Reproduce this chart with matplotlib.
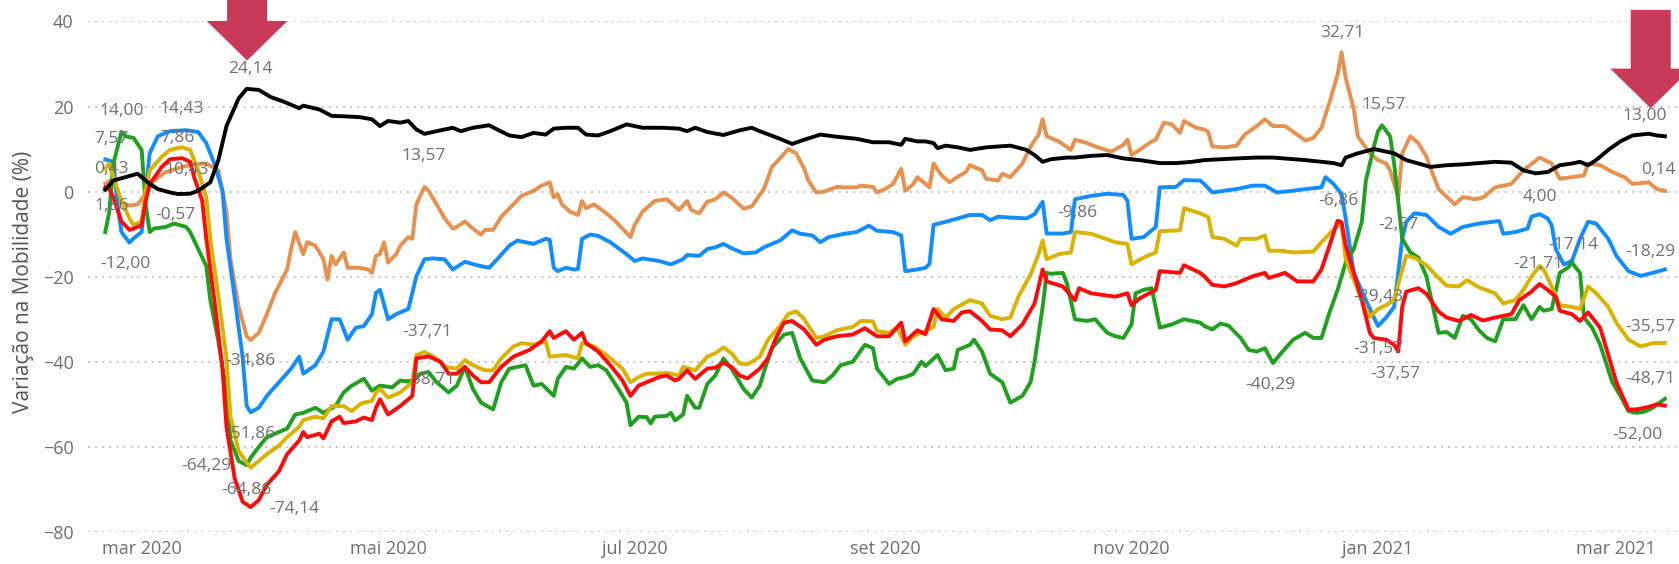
import pandas as pd
import matplotlib
matplotlib.use("Agg")
import matplotlib.pyplot as plt
import matplotlib.dates as mdates
from matplotlib.patches import Polygon

plt.rcParams["font.family"] = ["Open Sans", "DejaVu Sans"]

# (day, value) pairs, day 0 = 2020-03-01, values are 7-day averages (%)
INICIO = pd.Timestamp("2020-03-01")

black = [(-9, 0.43), (-7, 2.6), (-4, 3.4), (-1, 4.2), (0, 3.4), (2, 1.8), (4, 0.6), (7, -0.2), (9, -0.57),
         (12, -0.5), (14, 0.2), (17, 2.2), (19, 7.4), (21, 15.4), (24, 21.9), (26, 24.14), (29, 23.9),
         (32, 22.2), (35, 21.2), (39, 19.6), (40, 20.2), (44, 19.3), (47, 17.8), (50, 17.7), (54, 17.5),
         (57, 17.0), (59, 15.4), (61, 16.6), (64, 16.2), (66, 16.6), (68, 14.6), (70, 13.57), (73, 14.2),
         (77, 15.0), (79, 14.2), (82, 15.0), (86, 15.6), (88, 14.6), (91, 13.2), (94, 12.8), (97, 13.8),
         (100, 13.4), (102, 14.8), (105, 15.0), (108, 15.0), (110, 13.4), (113, 13.2), (116, 14.2),
         (120, 15.8), (124, 15.0), (129, 15.0), (133, 14.8), (135, 14.2), (137, 15.0), (140, 14.0),
         (144, 13.3), (148, 14.4), (151, 15.0), (153, 14.2), (158, 12.4), (161, 11.2), (164, 12.2),
         (168, 13.4), (172, 12.9), (177, 12.4), (181, 11.6), (185, 11.6), (188, 11.0), (189, 12.4),
         (192, 11.8), (194, 11.8), (196, 11.4), (197, 10.2), (199, 10.8), (202, 10.4), (205, 9.8),
         (209, 10.4), (212, 10.6), (215, 10.8), (219, 9.8), (221, 8.6), (223, 7.0), (225, 7.6), (229, 8.0),
         (231, 8.0), (235, 8.4), (239, 8.6), (243, 7.8), (247, 7.4), (252, 6.7), (256, 6.7), (260, 7.0),
         (263, 7.4), (267, 7.6), (271, 7.8), (276, 8.0), (280, 8.0), (284, 7.7), (288, 7.4), (292, 7.0),
         (295, 6.7), (297, 6.2), (298, 8.0), (301, 9.0), (305, 10.0), (308, 9.4), (310, 9.0), (313, 7.4),
         (316, 6.6), (319, 5.8), (323, 6.2), (327, 6.4), (331, 6.7), (335, 7.0), (339, 6.8), (342, 5.0),
         (345, 4.3), (348, 4.6), (351, 6.2), (354, 6.6), (356, 7.0), (358, 6.2), (360, 7.4), (363, 9.8),
         (366, 11.8), (369, 13.2), (373, 13.6), (375, 13.2), (377, 13.0)]

orange = [(-9, 1.86), (-7, 3.0), (-5, -2.5), (-3, -3.3), (-1, -3.0), (1, -0.5), (3, 2.6), (6, 4.6),
          (10, 5.8), (13, 6.4), (16, 6.6), (19, 5.0), (21, -4.7), (22, -15.9), (24, -27.1), (26, -34.0),
          (27, -34.86), (29, -33.2), (31, -28.8), (33, -23.9), (36, -18.3), (37, -13.5), (38, -9.5),
          (40, -14.7), (41, -11.9), (43, -12.7), (45, -15.9), (46, -20.7), (47, -15.1), (48, -17.1),
          (50, -14.3), (51, -17.9), (54, -17.9), (56, -18.3), (57, -19.1), (58, -15.1), (59, -14.7),
          (60, -11.9), (61, -16.7), (63, -14.7), (64, -12.7), (66, -10.7), (67, -11.1), (68, -3.0),
          (70, 1.1), (71, 0.2), (73, -3.0), (75, -6.3), (77, -8.7), (78, -8.3), (80, -7.0), (82, -8.7),
          (84, -10.1), (85, -9.0), (87, -9.0), (89, -5.9), (92, -3.0), (94, -1.0), (97, 0.2), (99, 1.4),
          (101, 2.2), (102, -1.4), (103, -0.6), (104, -3.0), (106, -4.7), (108, -5.5), (109, -2.2),
          (110, -3.9), (112, -3.0), (115, -5.1), (117, -6.7), (119, -8.7), (121, -10.7), (122, -7.9),
          (124, -4.7), (127, -2.2), (130, -1.8), (132, -3.5), (133, -4.3), (135, -2.2), (136, -4.3),
          (138, -5.1), (140, -2.4), (142, -1.8), (144, -0.2), (146, -1.4), (149, -4.0), (151, -3.5),
          (154, 0.6), (156, 5.8), (158, 7.8), (160, 10.0), (162, 9.0), (164, 5.4), (165, 2.6), (167, -0.2),
          (169, 0.0), (172, 1.1), (174, 1.0), (177, 1.0), (178, 1.4), (181, 1.1), (182, -0.2), (184, 0.6),
          (186, 1.8), (188, 5.4), (189, 0.2), (191, 1.8), (192, 3.4), (193, 2.6), (195, 1.0), (196, 6.6),
          (198, 3.8), (200, 2.2), (202, 3.5), (204, 4.6), (205, 6.2), (208, 5.0), (209, 3.0), (212, 2.6),
          (213, 4.2), (215, 3.4), (218, 6.6), (220, 10.6), (222, 13.4), (223, 17.0), (224, 13.0),
          (227, 11.8), (230, 9.8), (231, 12.2), (234, 11.4), (236, 10.6), (240, 9.4), (243, 11.0),
          (244, 12.2), (245, 8.6), (247, 9.8), (250, 11.8), (251, 12.2), (253, 16.2), (255, 15.8),
          (257, 13.8), (258, 16.6), (261, 15.0), (263, 14.6), (264, 14.0), (265, 10.6), (268, 10.4),
          (271, 10.8), (273, 13.4), (276, 15.4), (278, 17.0), (280, 15.4), (283, 15.4), (286, 13.4),
          (288, 12.0), (290, 12.6), (292, 15.0), (294, 21.0), (296, 27.5), (297, 32.71), (298, 26.7),
          (300, 19.4), (301, 13.0), (304, 9.0), (306, 7.4), (308, 6.6), (309, 5.0), (310, 1.8), (311, -1.4),
          (312, 9.0), (314, 13.0), (316, 11.4), (318, 8.2), (319, 5.5), (321, 0.6), (323, -1.2), (325, -3.0),
          (327, -1.3), (330, -1.8), (332, -1.4), (335, 1.0), (339, 1.8), (342, 5.0), (346, 8.0), (349, 6.6),
          (351, 3.0), (354, 3.4), (357, 3.8), (358, 6.6), (361, 6.2), (364, 4.6), (367, 3.4), (369, 1.8),
          (373, 2.2), (375, 0.6), (377, 0.14)]

blue = [(-9, 7.57), (-7, 7.0), (-6, -3.0), (-5, -9.5), (-3, -12.0), (-2, -11.0), (0, -9.5), (1, 0.0),
        (2, 9.0), (4, 13.0), (7, 14.2), (11, 14.43), (14, 14.0), (16, 11.4), (18, 6.6), (20, 0.2),
        (21, -11.0), (23, -24.7), (25, -39.0), (26, -50.4), (27, -51.86), (29, -50.8), (31, -48.0),
        (34, -44.8), (37, -41.6), (39, -38.8), (40, -42.8), (43, -40.8), (45, -37.6), (47, -30.0),
        (49, -30.0), (51, -34.8), (53, -32.0), (55, -31.6), (57, -28.8), (58, -23.8), (59, -23.1),
        (61, -30.0), (63, -28.8), (66, -27.6), (68, -19.9), (70, -15.9), (72, -15.7), (75, -15.9),
        (77, -18.3), (80, -16.5), (83, -17.3), (86, -17.9), (88, -15.9), (91, -12.7), (93, -11.5),
        (97, -12.3), (100, -11.1), (101, -11.3), (102, -17.9), (103, -18.7), (105, -17.9), (107, -18.3),
        (108, -18.2), (109, -11.1), (111, -10.1), (113, -10.4), (116, -11.9), (120, -14.7), (122, -16.3),
        (124, -15.7), (128, -16.3), (131, -17.1), (134, -15.9), (135, -14.9), (138, -15.1), (140, -13.5),
        (142, -13.1), (144, -12.3), (146, -13.3), (149, -14.5), (152, -14.3), (154, -13.1), (158, -11.5),
        (159, -10.7), (161, -9.1), (163, -9.9), (166, -10.3), (168, -11.9), (170, -10.7), (174, -9.9),
        (177, -9.5), (180, -8.0), (182, -9.2), (186, -9.5), (188, -10.3), (189, -18.7), (192, -18.3),
        (194, -17.9), (195, -17.0), (196, -7.8), (199, -7.1), (202, -6.3), (205, -5.5), (208, -5.5),
        (210, -6.7), (212, -5.9), (215, -6.1), (219, -6.3), (221, -5.3), (223, -2.4), (224, -9.86),
        (228, -9.86), (230, -9.5), (231, -1.8), (235, -1.0), (239, -0.5), (243, -0.8), (244, -2.2),
        (245, -11.1), (248, -10.7), (251, -8.3), (252, 1.0), (256, 1.1), (258, 2.7), (262, 2.6), (263, 1.8),
        (265, -0.2), (268, 0.2), (271, 0.6), (275, 1.4), (278, 1.4), (281, -0.2), (285, 0.2), (288, 0.6),
        (292, 1.0), (293, 3.4), (295, 1.8), (297, -0.6), (298, -6.3), (299, -12.7), (300, -19.1),
        (303, -25.5), (305, -29.6), (306, -31.57), (308, -29.6), (310, -27.1), (311, -19.1), (312, -11.1),
        (313, -7.1), (315, -5.1), (318, -5.5), (321, -8.3), (324, -9.9), (327, -8.3), (331, -7.5),
        (336, -6.9), (337, -9.9), (340, -9.5), (343, -8.7), (344, -5.9), (346, -5.3), (348, -6.3),
        (349, -7.9), (350, -13.5), (352, -17.14), (354, -16.3), (356, -11.1), (358, -7.1), (360, -7.5),
        (363, -11.1), (365, -15.1), (368, -18.7), (371, -19.8), (374, -19.1), (377, -18.29)]

yellow = [(-9, 5.4), (-8, 6.6), (-7, 3.4), (-5, -2.2), (-3, -6.3), (-2, -7.9), (0, -7.0), (1, 0.2), (2, 5.0),
          (5, 8.2), (7, 9.8), (10, 10.43), (12, 9.8), (14, 5.0), (16, -1.4), (17, -11.0), (19, -24.7),
          (21, -39.2), (22, -52.9), (24, -60.9), (26, -63.7), (27, -64.86), (29, -63.3), (31, -61.7),
          (34, -59.7), (36, -57.7), (39, -55.3), (40, -53.7), (43, -52.9), (45, -53.3), (47, -50.4),
          (50, -50.4), (52, -51.6), (54, -50.0), (55, -49.6), (57, -49.2), (58, -47.2), (59, -46.4),
          (61, -48.4), (64, -47.2), (67, -44.8), (68, -38.4), (70, -37.71), (73, -39.2), (75, -41.2),
          (78, -41.6), (80, -39.6), (82, -40.8), (85, -42.0), (87, -42.0), (89, -39.2), (92, -36.4),
          (94, -35.6), (97, -36.0), (100, -35.2), (101, -38.8), (105, -38.4), (108, -39.2), (109, -35.6),
          (112, -36.4), (115, -38.4), (119, -41.6), (121, -44.8), (123, -43.6), (125, -42.8), (127, -42.8),
          (130, -42.6), (133, -43.2), (134, -41.2), (137, -42.0), (140, -38.8), (142, -38.0), (144, -36.6),
          (146, -38.0), (148, -40.4), (150, -40.6), (153, -38.8), (155, -34.8), (158, -31.6), (160, -28.8),
          (162, -28.1), (164, -30.0), (167, -34.4), (169, -34.0), (172, -32.6), (176, -31.8), (178, -30.4),
          (181, -30.5), (182, -32.8), (185, -33.2), (187, -32.0), (189, -36.0), (191, -34.0), (194, -32.8),
          (196, -31.8), (197, -27.6), (199, -29.6), (201, -27.6), (205, -25.5), (208, -26.3), (210, -29.2),
          (213, -30.0), (215, -29.6), (217, -24.7), (220, -19.5), (222, -14.7), (223, -11.5), (224, -15.9),
          (227, -14.7), (230, -14.3), (231, -9.5), (235, -9.9), (238, -10.9), (241, -11.9), (244, -12.3),
          (245, -17.1), (248, -15.5), (251, -14.3), (252, -9.3), (257, -9.1), (258, -3.9), (262, -5.1),
          (264, -6.0), (265, -10.7), (268, -11.1), (271, -12.7), (272, -11.1), (276, -11.1), (278, -10.3),
          (279, -13.9), (282, -13.9), (285, -14.3), (290, -14.1), (292, -11.9), (294, -9.9), (296, -7.9),
          (297, -7.9), (298, -15.9), (300, -20.7), (302, -25.5), (304, -29.43), (306, -27.6), (308, -26.7),
          (310, -25.5), (312, -18.3), (313, -15.1), (315, -15.5), (318, -17.3), (321, -20.3), (323, -22.1),
          (326, -22.3), (328, -20.8), (331, -22.5), (335, -23.9), (337, -26.3), (340, -25.5), (342, -23.1),
          (344, -19.9), (346, -17.5), (347, -18.3), (349, -22.3), (351, -26.7), (354, -27.1), (356, -27.6),
          (358, -22.3), (360, -23.9), (363, -27.1), (365, -30.8), (368, -34.8), (371, -36.4), (374, -35.6),
          (377, -35.57)]

red = [(-9, 1.0), (-8, 0.6), (-7, -1.4), (-5, -7.0), (-3, -9.0), (-2, -8.7), (0, -7.9), (1, -2.2), (2, 1.8),
       (5, 5.8), (7, 7.6), (10, 7.86), (12, 7.0), (13, 3.4), (15, -2.2), (16, -11.0), (18, -25.5),
       (20, -41.6), (21, -55.3), (23, -67.3), (25, -72.9), (27, -74.14), (29, -72.5), (31, -68.9),
       (34, -65.7), (36, -61.7), (39, -58.5), (40, -56.5), (41, -57.7), (44, -56.9), (45, -58.0), (47, -54.0),
       (49, -52.9), (50, -54.4), (53, -54.0), (55, -53.1), (57, -53.7), (58, -50.8), (59, -48.8), (61, -52.4),
       (64, -50.4), (67, -48.0), (68, -39.2), (71, -38.71), (74, -40.0), (76, -42.8), (78, -42.8), (80, -41.2),
       (82, -43.2), (84, -44.8), (86, -44.8), (89, -41.2), (92, -38.8), (96, -37.2), (99, -35.2), (101, -32.8),
       (102, -34.4), (105, -32.8), (107, -34.8), (109, -33.2), (110, -35.6), (113, -37.6), (116, -40.8),
       (119, -44.4), (121, -48.0), (123, -45.6), (125, -44.8), (128, -43.6), (130, -43.2), (132, -44.4),
       (133, -44.0), (135, -42.0), (137, -44.0), (140, -41.6), (142, -41.4), (144, -40.2), (146, -41.2),
       (148, -43.2), (150, -43.9), (153, -41.6), (155, -39.2), (157, -34.4), (159, -30.8), (161, -30.4),
       (164, -32.4), (167, -36.0), (169, -34.8), (172, -34.0), (176, -33.6), (179, -32.1), (182, -34.0),
       (185, -34.0), (188, -30.8), (189, -35.2), (192, -32.6), (194, -33.5), (196, -27.6), (198, -30.0),
       (201, -30.4), (203, -28.4), (205, -28.1), (208, -30.4), (210, -32.4), (213, -32.6), (215, -34.0),
       (218, -31.2), (221, -26.3), (223, -18.3), (224, -21.1), (228, -22.3), (231, -25.5), (232, -22.7),
       (235, -23.9), (238, -24.3), (241, -24.7), (244, -23.9), (245, -26.7), (247, -25.1), (251, -23.1),
       (252, -18.7), (257, -19.1), (258, -17.3), (262, -19.1), (263, -19.9), (265, -21.9), (268, -22.3),
       (271, -21.5), (275, -19.9), (278, -19.1), (279, -20.3), (283, -19.1), (286, -21.1), (290, -21.1),
       (292, -18.3), (294, -12.7), (296, -6.86), (297, -7.2), (298, -12.7), (300, -19.1), (302, -25.5),
       (304, -33.2), (305, -34.4), (308, -34.8), (310, -36.0), (311, -37.57), (312, -27.1), (313, -23.5),
       (316, -22.7), (318, -24.0), (321, -28.2), (323, -29.6), (326, -30.4), (329, -29.0), (332, -30.3),
       (335, -29.6), (339, -28.8), (341, -25.5), (344, -23.5), (346, -21.71), (348, -23.1), (350, -24.7),
       (351, -28.0), (354, -28.8), (356, -30.4), (358, -28.4), (361, -32.0), (363, -38.4), (365, -44.8),
       (368, -51.2), (370, -51.2), (373, -50.6), (375, -50.0), (377, -50.3)]

green = [(-9, -9.5), (-8, -4.7), (-7, 6.6), (-5, 14.0), (-4, 13.0), (-2, 12.6), (0, 9.8), (1, -3.0), (2, -9.5),
         (3, -8.7), (6, -8.3), (8, -7.5), (11, -8.3), (12, -9.5), (14, -13.5), (16, -17.5), (17, -25.5),
         (19, -35.2), (21, -47.2), (22, -58.5), (24, -63.3), (26, -64.29), (27, -62.5), (29, -60.0),
         (31, -57.7), (34, -56.5), (36, -55.7), (38, -52.4), (40, -52.0), (43, -50.8), (45, -52.0),
         (48, -50.4), (50, -47.2), (52, -45.6), (55, -44.0), (57, -46.8), (59, -45.6), (62, -46.0),
         (64, -44.4), (67, -44.8), (69, -42.8), (71, -42.4), (73, -44.8), (76, -47.2), (78, -45.6),
         (80, -41.2), (82, -46.4), (84, -49.6), (87, -51.2), (89, -44.8), (91, -41.6), (95, -40.8),
         (97, -45.6), (99, -45.2), (102, -48.0), (103, -44.0), (105, -41.2), (107, -41.6), (109, -39.2),
         (111, -41.2), (113, -40.8), (115, -42.0), (118, -46.4), (120, -49.6), (121, -54.9), (123, -52.9),
         (125, -53.0), (126, -54.5), (127, -52.9), (130, -52.7), (131, -52.0), (132, -53.8), (134, -52.4),
         (135, -48.0), (137, -50.8), (138, -50.8), (140, -45.2), (142, -43.2), (144, -39.2), (146, -41.6),
         (149, -46.4), (151, -48.4), (153, -45.6), (154, -42.4), (156, -36.8), (159, -33.6), (161, -33.2),
         (163, -39.2), (166, -44.4), (169, -44.8), (171, -43.2), (173, -40.8), (176, -40.0), (179, -36.0),
         (181, -36.8), (182, -41.6), (185, -45.2), (187, -44.0), (189, -43.6), (191, -42.8), (193, -40.0),
         (194, -41.0), (197, -38.4), (199, -42.0), (201, -41.6), (202, -37.2), (205, -36.0), (206, -34.8),
         (208, -37.6), (210, -42.8), (213, -44.8), (215, -49.6), (218, -48.0), (220, -44.8), (221, -40.0),
         (223, -27.1), (224, -19.1), (225, -19.3), (228, -19.1), (229, -21.5), (231, -30.0), (234, -30.4),
         (236, -30.0), (239, -33.2), (241, -34.0), (243, -34.4), (245, -31.2), (246, -23.9), (248, -23.1),
         (250, -22.7), (252, -32.0), (255, -31.2), (258, -30.0), (262, -30.8), (263, -31.6), (265, -32.4),
         (267, -31.0), (269, -31.5), (272, -34.4), (274, -37.2), (276, -37.6), (278, -36.8), (280, -40.29),
         (282, -38.0), (285, -34.8), (288, -33.2), (290, -34.4), (292, -34.4), (294, -28.4), (296, -23.1),
         (298, -16.7), (300, -13.5), (302, -7.1), (303, 2.6), (305, 10.6), (306, 14.2), (307, 15.57),
         (309, 13.0), (310, 6.6), (311, -2.2), (312, -11.1), (314, -14.3), (316, -15.5), (318, -20.0),
         (320, -28.8), (321, -33.2), (323, -33.0), (325, -34.4), (327, -29.2), (329, -30.0), (331, -32.6),
         (333, -34.4), (335, -35.2), (337, -30.0), (340, -30.0), (342, -26.7), (344, -30.0), (346, -27.1),
         (347, -28.0), (349, -27.6), (351, -19.1), (353, -17.9), (354, -16.7), (356, -19.1), (357, -29.6),
         (359, -32.0), (361, -36.0), (364, -44.8), (366, -48.0), (368, -51.6), (370, -52.0), (372, -51.7),
         (374, -50.8), (377, -48.71)]

# data labels shown on the chart: (text, day, value)
data_labels = [("24,14", 26.8, 28.8), ("14,00", -4.9, 19.0), ("14,43", 9.9, 19.3), ("7,57", -7.6, 12.4),
               ("7,86", 8.9, 12.6), ("0,43", -7.4, 5.2), ("10,43", 11.2, 5.0), ("1,86", -7.4, -3.5),
               ("-0,57", 8.3, -5.6), ("-12,00", -4.1, -17.1), ("-34,86", 26.8, -39.8), ("-51,86", 26.8, -57.0),
               ("-64,29", 16.1, -64.5), ("-64,86", 26.0, -70.1), ("-74,14", 37.8, -74.5), ("13,57", 69.7, 8.4),
               ("-37,71", 70.6, -32.9), ("-38,71", 71.4, -44.2), ("-9,86", 231.7, -5.1),
               ("32,71", 297.1, 37.3), ("15,57", 307.4, 20.4), ("-6,86", 296.2, -2.1), ("-2,57", 311.1, -7.9),
               ("-29,43", 306.1, -24.7), ("-31,57", 306.1, -36.9), ("-37,57", 310.2, -42.8),
               ("-40,29", 279.3, -45.5), ("13,00", 372.1, 17.8), ("0,14", 375.4, 5.1), ("4,00", 346.0, -1.3),
               ("-17,14", 354.4, -12.5), ("-18,29", 373.4, -14.1), ("-21,71", 345.7, -17.1),
               ("-35,57", 373.4, -31.8), ("-48,71", 373.4, -44.0), ("-52,00", 370.1, -57.3)]

month_ticks = ["2020-03-01", "2020-05-01", "2020-07-01", "2020-09-01", "2020-11-01", "2021-01-01", "2021-03-01"]
month_labels = ["mar 2020", "mai 2020", "jul 2020", "set 2020", "nov 2020", "jan 2021", "mar 2021"]


def day_x(d):
    return mdates.date2num(INICIO + pd.Timedelta(days=d))


def draw_arrow(ax, tip_day, tip_val, base_val, top_val, color):
    # downward block arrow; half widths in days
    sh, hh = 4.95, 10.0
    pts = [(day_x(tip_day - sh), top_val), (day_x(tip_day + sh), top_val), (day_x(tip_day + sh), base_val),
           (day_x(tip_day + hh), base_val), (day_x(tip_day), tip_val), (day_x(tip_day - hh), base_val),
           (day_x(tip_day - sh), base_val)]
    ax.add_patch(Polygon(pts, closed=True, facecolor=color, edgecolor="none", clip_on=False, zorder=5))


fig = plt.figure(figsize=(16.79, 5.64), dpi=100)
ax = fig.add_axes([87.5 / 1679, 32 / 564, 1 - 87.5 / 1679, 510.6 / 564])

series = [
    (orange, "#E8914E"),
    (blue, "#118DFF"),
    (green, "#1FA01F"),
    (yellow, "#D9B300"),
    (red, "#FF0A0A"),
    (black, "#000000"),
]
for pts, color in series:
    days = [p[0] for p in pts]
    vals = [p[1] for p in pts]
    ax.plot(INICIO + pd.to_timedelta(days, unit="D"), vals, color=color, lw=2.8,
            solid_joinstyle="round", zorder=3)

for txt, d, v in data_labels:
    ax.text(INICIO + pd.Timedelta(days=d), v, txt, ha="center", va="center", fontsize=12.5,
            color="#707070", clip_on=False, zorder=4)

draw_arrow(ax, 26.1, 30.8, 40.1, 46.0, "#C93A59")
draw_arrow(ax, 373.5, 19.6, 28.9, 42.7, "#C93A59")

ax.set_xlim(INICIO + pd.Timedelta(days=-13.4), INICIO + pd.Timedelta(days=380.5))
ax.set_ylim(-80, 40)
ax.set_yticks(range(-80, 41, 20))
ax.set_xticks(pd.to_datetime(month_ticks))
ax.set_xticklabels(month_labels)
ax.tick_params(axis="both", length=0, labelsize=13, colors="#6E6E6E")
ax.tick_params(axis="y", pad=10)
ax.tick_params(axis="x", pad=6)
ax.yaxis.grid(True, color="#C8C8C8", linestyle=(0, (1, 2.4)), lw=1.5)
ax.set_axisbelow(True)
for s in ax.spines.values():
    s.set_visible(False)

fig.text(24 / 1679, 1 - 282 / 564, "Variação na Mobilidade (%)", rotation=90, ha="center", va="center",
         fontsize=15, color="#555555")

fig.savefig("out.png", dpi=100)
